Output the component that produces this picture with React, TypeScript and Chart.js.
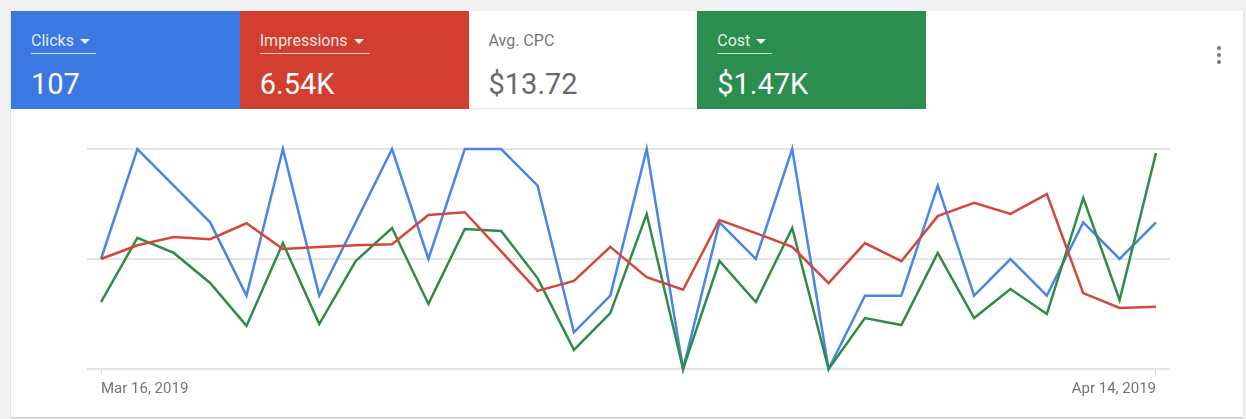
import React, { useEffect, useRef } from "react";
import { Chart, registerables } from "chart.js";

Chart.register(...registerables);

const dates = [
  "Mar 16, 2019", "Mar 17, 2019", "Mar 18, 2019", "Mar 19, 2019", "Mar 20, 2019",
  "Mar 21, 2019", "Mar 22, 2019", "Mar 23, 2019", "Mar 24, 2019", "Mar 25, 2019",
  "Mar 26, 2019", "Mar 27, 2019", "Mar 28, 2019", "Mar 29, 2019", "Mar 30, 2019",
  "Mar 31, 2019", "Apr 1, 2019", "Apr 2, 2019", "Apr 3, 2019", "Apr 4, 2019",
  "Apr 5, 2019", "Apr 6, 2019", "Apr 7, 2019", "Apr 8, 2019", "Apr 9, 2019",
  "Apr 10, 2019", "Apr 11, 2019", "Apr 12, 2019", "Apr 13, 2019", "Apr 14, 2019",
];

const clicks = [3, 6, 5, 4, 2, 6, 2, 4, 6, 3, 6, 6, 5, 1, 2, 6, 0, 4, 3, 6, 0, 2, 2, 5, 2, 3, 2, 4, 3, 4];
const impressions = [200, 225, 240, 236, 265, 218, 222, 225, 227, 280, 285, 214, 142, 160, 222, 167, 144, 271, 247, 222, 156, 229, 196, 278, 302, 282, 318, 138, 111, 113];
const cost = [36.5, 71.5, 63.3, 46.9, 23.5, 68.7, 24.5, 58.9, 76.9, 35.5, 76.4, 75.3, 49.6, 10.4, 30.5, 84.5, 0, 58.9, 36.5, 76.9, 0, 27.8, 24.0, 63.3, 27.8, 43.6, 30.0, 93.3, 37.6, 117.8];

const xTickIndexes = [0, 29];

const tiles = [
  { label: "Clicks", value: "107", bg: "#3b78e2", dark: false, menu: true },
  { label: "Impressions", value: "6.54K", bg: "#d23f31", dark: false, menu: true },
  { label: "Avg. CPC", value: "$13.72", bg: "#ffffff", dark: true, menu: false },
  { label: "Cost", value: "$1.47K", bg: "#2b8e4e", dark: false, menu: true },
];

const FONT = "Roboto, 'Noto Sans', Arial, sans-serif";

function Tile({ t, left }: { t: any; left: number }) {
  const labelColor = t.dark ? "#757575" : "rgba(255,255,255,0.88)";
  const valueColor = t.dark ? "#6a6a6a" : "#ffffff";
  return (
    <div
      style={{
        position: "absolute",
        left,
        top: 0,
        width: 229,
        height: 98,
        background: t.bg,
        borderBottom: t.dark ? "1px solid #e6e6e6" : "none",
        boxSizing: "border-box",
      }}
    >
      <div
        style={{
          position: "absolute",
          left: 20,
          top: 22,
          height: 20,
          display: "flex",
          alignItems: "flex-start",
          borderBottom: t.menu ? "1px solid rgba(255,255,255,0.75)" : "none",
          paddingRight: t.menu ? 6 : 0,
        }}
      >
        <span style={{ fontSize: 16, lineHeight: "16px", color: labelColor, whiteSpace: "nowrap" }}>{t.label}</span>
        {t.menu && (
          <span
            style={{
              marginLeft: 6,
              marginTop: 6,
              width: 0,
              height: 0,
              borderLeft: "5.5px solid transparent",
              borderRight: "5.5px solid transparent",
              borderTop: "5px solid rgba(255,255,255,0.92)",
            }}
          />
        )}
      </div>
      <div
        style={{
          position: "absolute",
          left: 20,
          top: 59,
          fontSize: 29,
          lineHeight: "29px",
          color: valueColor,
          whiteSpace: "nowrap",
        }}
      >
        {t.value}
      </div>
    </div>
  );
}

export default function App() {
  const canvasRef = useRef<HTMLCanvasElement | null>(null);

  useEffect(() => {
    const canvas = canvasRef.current;
    if (!canvas) return;
    const toPts = (arr: number[]) => arr.map((v, i) => ({ x: i, y: v }));
    const chart = new Chart(canvas, {
      type: "line",
      data: {
        datasets: [
          {
            label: "Clicks",
            data: toPts(clicks),
            borderColor: "#4a86e8",
            borderWidth: 2.5,
            pointRadius: 0,
            tension: 0,
            yAxisID: "y",
            order: 2,
            clip: false,
          },
          {
            label: "Impressions",
            data: toPts(impressions),
            borderColor: "#d4483a",
            borderWidth: 2.5,
            pointRadius: 0,
            tension: 0,
            yAxisID: "y1",
            order: 0,
            clip: false,
          },
          {
            label: "Cost",
            data: toPts(cost),
            borderColor: "#2f8c48",
            borderWidth: 2.5,
            pointRadius: 0,
            tension: 0,
            yAxisID: "y2",
            order: 1,
            clip: false,
          },
        ] as any,
      },
      options: {
        animation: false,
        responsive: false,
        events: [],
        layout: { padding: { left: 76, right: 73, top: 39, bottom: 0 } },
        plugins: { legend: { display: false }, tooltip: { enabled: false } },
        scales: {
          x: {
            type: "linear",
            min: -0.385,
            max: 29.385,
            afterBuildTicks: (s: any) => {
              s.ticks = xTickIndexes.map((v) => ({ value: v }));
            },
            afterFit: (s: any) => {
              s.height = 47;
            },
            ticks: {
              callback: (v: any) => dates[v as number],
              autoSkip: false,
              maxRotation: 0,
              minRotation: 0,
              align: "inner",
              padding: 5,
              color: "#757575",
              font: { family: FONT, size: 15 },
            },
            grid: { drawOnChartArea: false, drawTicks: true, tickLength: 6, color: "#d9d9d9", lineWidth: 1 },
            border: { display: false },
          },
          y: {
            type: "linear",
            min: 0,
            max: 6,
            ticks: { display: false, stepSize: 3 },
            grid: { color: "#e4e4e4", lineWidth: 2, drawTicks: false },
            border: { display: false },
            afterFit: (s: any) => {
              s.width = 0;
            },
          },
          y1: { type: "linear", min: 0, max: 400, display: false },
          y2: { type: "linear", min: 0, max: 120, display: false },
        },
      } as any,
    });
    return () => chart.destroy();
  }, []);

  return (
    <div style={{ position: "fixed", inset: 0, background: "#f1f1f1", fontFamily: FONT }}>
      <div
        style={{
          position: "absolute",
          left: 11,
          top: 11,
          width: 1232,
          height: 406,
          background: "#ffffff",
          boxShadow: "0 1px 1.5px rgba(0,0,0,0.22)",
        }}
      >
        {tiles.map((t, i) => (
          <Tile key={t.label} t={t} left={i * 228.75} />
        ))}
        <div style={{ position: "absolute", left: 1206, top: 35, width: 4, display: "flex", flexDirection: "column" }}>
          {[0, 1, 2].map((k) => (
            <div key={k} style={{ width: 4, height: 4, borderRadius: 2, background: "#757575", marginBottom: 3 }} />
          ))}
        </div>
        <canvas
          ref={canvasRef}
          width={1232}
          height={306}
          style={{ position: "absolute", left: 0, top: 99, width: 1232, height: 306 }}
        />
      </div>
    </div>
  );
}
